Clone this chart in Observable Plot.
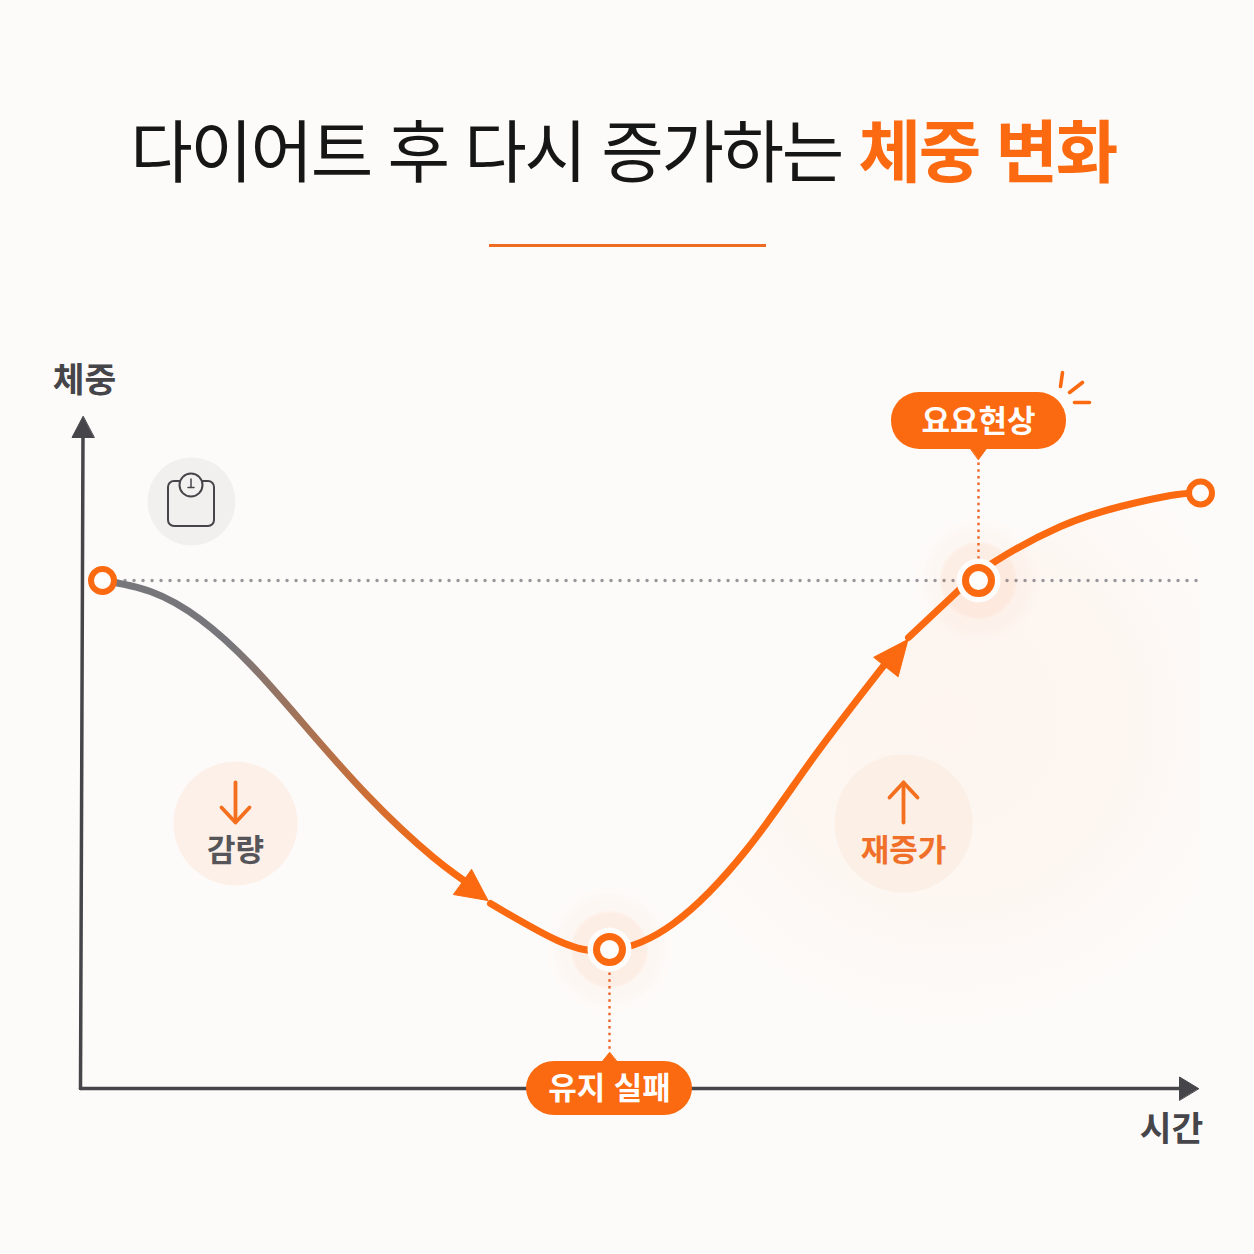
<!DOCTYPE html>
<html lang="ko">
<head>
<meta charset="utf-8">
<title>다이어트 후 다시 증가하는 체중 변화</title>
<script src="https://cdn.jsdelivr.net/npm/d3@7"></script>
<script src="https://cdn.jsdelivr.net/npm/@observablehq/plot@0.6"></script>
<style>
  html, body { margin: 0; padding: 0; background: #fdfbf9; width: 1254px; height: 1254px; overflow: hidden; }
  #head { position: relative; height: 270px; font-family: "Noto Sans CJK KR", sans-serif; }
  #head h1 { position: absolute; left: 0; width: 1246px; top: 100px; margin: 0; text-align: center; font-size: 68px; line-height: 96px; font-weight: 400; color: #161616; white-space: nowrap; letter-spacing: -2.4px; }
  #head h1 b { color: #fb6a10; font-weight: 700; }
  #head i { position: absolute; left: 489px; top: 244px; width: 277px; height: 3px; background: #ee6c22; }
  svg { display: block; }
</style>
</head>
<body>
<div id="head"><h1>다이어트 후 다시 증가하는 <b>체중 변화</b></h1><i></i></div>
<div id="chart"></div>
<script>
// Series: time (x) and weight (y), in the chart's own units
const descentTime   = [2.2, 7, 12, 17, 22, 28.7, 35.3, 39.8];
const descentWeight = [50.8, 49.7, 46.9, 42.4, 36.8, 29.3, 23.1, 19.8];
const plateauTime   = [41, 47.7, 52.9, 59.3, 66.7, 73.3, 80.8];
const plateauWeight = [18.5, 14.8, 13.8, 16.5, 24, 33.1, 42.9];
const reboundTime   = [82.8, 87.7, 91.3, 98, 104, 109, 112];
const reboundWeight = [45.1, 49.7, 52.6, 56.2, 58.2, 59.3, 59.6];

const startWeight = 50.8;
const keyTime   = [2.2, 52.9, 89.8, 112];
const keyWeight = [50.8, 13.9, 50.8, 59.55];
const keyHalo   = [false, true, true, false];

const titleLabels = ["체중", "시간"];
const pillLabels  = ["요요현상", "유지 실패"];
const phaseLabels = ["감량", "재증가"];

const orange = "#fb6a10", ink = "#46464a";
const font = "'Noto Sans CJK KR', sans-serif";

const tuple = (xs, ys, z) => xs.map((x, i) => ({x, y: ys[i], z}));
const curve = [
  ...tuple(descentTime, descentWeight, "descent"),
  ...tuple(plateauTime, plateauWeight, "plateau"),
  ...tuple(reboundTime, reboundWeight, "rebound")
];
const rising = [...tuple(plateauTime, plateauWeight), ...tuple(reboundTime, reboundWeight)].filter(d => d.x >= 59);
const keys = keyTime.map((x, i) => ({x, y: keyWeight[i], halo: keyHalo[i]}));
const halos = keys.filter(d => d.halo);
const ends = keys.filter(d => !d.halo);

// Arrowhead: tip at the anchor, base `length` behind it, half-width r
const head = {draw(c, l, r) { c.moveTo(0, 0); c.lineTo(-r, l); c.lineTo(r, l); c.closePath(); }};
const heads = (d, o) => Plot.vector([d], {x: "x", y: "y", anchor: "start", shape: head, rotate: d.rot, length: d.len, r: d.hw, fill: o, stroke: o, strokeWidth: 1});
const seg = (x1, y1, x2, y2, extra) => Plot.link([{x1, y1, x2, y2}], {x1: "x1", y1: "y1", x2: "x2", y2: "y2", strokeLinecap: "round", ...extra});
const pill = (x1, x2, y1, y2) => Plot.rect([{x1, x2, y1, y2}], {x1: "x1", x2: "x2", y1: "y1", y2: "y2", fill: orange, rx: 28});
const label = (t, x, y, size, weight, fill) => Plot.text([{t, x, y}], {x: "x", y: "y", text: "t", fontFamily: font, fontSize: size, fontWeight: weight, fill});

const defs = (index, {x, y}) => {
  const d = d3.create("svg:defs");
  const g = d.append("linearGradient").attr("id", "fade").attr("gradientUnits", "userSpaceOnUse")
    .attr("x1", x(15)).attr("x2", x(36)).attr("y1", 0).attr("y2", 0);
  g.append("stop").attr("offset", 0).attr("stop-color", "#77777b");
  g.append("stop").attr("offset", 1).attr("stop-color", orange);
  const r = d.append("radialGradient").attr("id", "glow").attr("gradientUnits", "userSpaceOnUse")
    .attr("cx", x(87)).attr("cy", y(36.8)).attr("r", 310);
  r.append("stop").attr("offset", 0).attr("stop-color", orange).attr("stop-opacity", 0.045);
  r.append("stop").attr("offset", 0.6).attr("stop-color", orange).attr("stop-opacity", 0.03);
  r.append("stop").attr("offset", 1).attr("stop-color", orange).attr("stop-opacity", 0);
  return d.node();
};

const plot = Plot.plot({
  width: 1254, height: 984,
  marginTop: 0, marginRight: 0, marginBottom: 0, marginLeft: 0,
  x: {axis: null, domain: [-8, 117.4], range: [0, 1254]},
  y: {axis: null, domain: [81.8, -16.6], range: [0, 984]},
  style: {background: "transparent"},
  marks: [
    defs,
    // soft glow beneath the rise
    Plot.areaY(rising, {x: "x", y1: d => d.y, y2: 0, curve: "natural", fill: "url(#glow)"}),

    // bubbles behind
    Plot.dot([{x: 11.1, y: 58.7}], {x: "x", y: "y", r: 44, fill: "#f2f0ee"}),
    Plot.dot([{x: 15.5, y: 26.5}], {x: "x", y: "y", r: 62, fill: "#fcf0e8"}),
    Plot.dot([{x: 82.3, y: 26.5}], {x: "x", y: "y", r: 69, fill: "#fbefe6"}),

    // bathroom scale icon
    Plot.rect([{x1: 8.8, x2: 13.4, y1: 60.7, y2: 56.2}], {x1: "x1", x2: "x2", y1: "y1", y2: "y2", fill: "none", stroke: ink, strokeWidth: 2, rx: 6}),
    Plot.dot([{x: 11.05, y: 60.35}], {x: "x", y: "y", r: 11.5, fill: "#f4f2f0", stroke: ink, strokeWidth: 2}),
    seg(11.05, 60.95, 11.05, 60.15, {stroke: ink, strokeWidth: 1.5}),
    seg(10.75, 60.1, 11.35, 60.1, {stroke: ink, strokeWidth: 1.5}),

    // axes
    seg(0, 0, 0.25, 65.5, {stroke: ink, strokeWidth: 3.5}),
    seg(0, 0, 110, 0, {stroke: ink, strokeWidth: 3.5}),
    heads({x: 0.25, y: 67.2, rot: 0, len: 21, hw: 11}, ink),
    heads({x: 111.8, y: 0, rot: 90, len: 19, hw: 11.5}, ink),
    label(titleLabels[0], 0.4, 70.8, 34.5, 700, ink),
    label(titleLabels[1], 109.1, -4.1, 34.5, 700, ink),

    // start-weight reference
    Plot.ruleY([startWeight], {x1: 3.6, x2: 112, stroke: "#97979c", strokeWidth: 3.4, strokeLinecap: "round", strokeDasharray: "0.1 8.9"}),

    // halos
    Plot.dot(halos, {x: "x", y: "y", r: 56, fill: orange, fillOpacity: 0.025, imageFilter: "blur(5px)"}),
    Plot.dot(halos, {x: "x", y: "y", r: 38, fill: orange, fillOpacity: 0.06, imageFilter: "blur(1px)"}),

    // leaders
    seg(89.8, 62.6, 89.8, 52.8, {stroke: "#ec6526", strokeWidth: 2.4, strokeDasharray: "2.5 4.2", strokeLinecap: "butt"}),
    seg(52.9, 11.6, 52.9, 3.8, {stroke: "#ec6526", strokeWidth: 2.4, strokeDasharray: "2.5 4.2", strokeLinecap: "butt"}),

    // curve
    Plot.line(curve, {x: "x", y: "y", z: "z", curve: "natural", stroke: "url(#fade)", strokeWidth: 7, strokeLinecap: "round"}),
    heads({x: 40.75, y: 18.8, rot: 126, len: 31.5, hw: 15.4}, orange),
    heads({x: 82.75, y: 44.9, rot: 38.7, len: 35.2, hw: 15.5}, orange),

    // key points
    Plot.dot(halos, {x: "x", y: "y", r: 22, fill: "#fffdfb"}),
    Plot.dot(halos, {x: "x", y: "y", r: 13, fill: "#fffdfb", stroke: orange, strokeWidth: 7}),
    Plot.dot(ends, {x: "x", y: "y", r: 11.5, fill: "#fffdfb", stroke: orange, strokeWidth: 6}),

    // phase bubbles: arrows + text
    seg(15.5, 30.6, 15.5, 26.8, {stroke: "#f4701f", strokeWidth: 3.8}),
    Plot.line([{x: 14.1, y: 28.1}, {x: 15.5, y: 26.6}, {x: 16.9, y: 28.1}], {x: "x", y: "y", stroke: "#f4701f", strokeWidth: 3.8, strokeLinecap: "round", strokeLinejoin: "round"}),
    label(phaseLabels[0], 15.5, 23.7, 31, 700, "#56565a"),
    seg(82.3, 26.6, 82.3, 30.6, {stroke: "#f4701f", strokeWidth: 3.8}),
    Plot.line([{x: 80.9, y: 29.1}, {x: 82.3, y: 30.6}, {x: 83.7, y: 29.1}], {x: "x", y: "y", stroke: "#f4701f", strokeWidth: 3.8, strokeLinecap: "round", strokeLinejoin: "round"}),
    label(phaseLabels[1], 82.3, 23.7, 31, 700, "#f0702a"),

    // pills
    pill(81.1, 98.6, 69.6, 63.9),
    heads({x: 89.8, y: 62.9, rot: 180, len: 11, hw: 8}, orange),
    label(pillLabels[0], 89.8, 66.6, 31, 600, "#fffdfb"),
    pill(44.6, 61.2, 2.7, -2.7),
    heads({x: 52.9, y: 3.6, rot: 0, len: 10, hw: 8}, orange),
    label(pillLabels[1], 52.9, -0.1, 31, 600, "#fffdfb"),

    // sparks
    seg(98.2, 71.6, 98.0, 70.2, {stroke: orange, strokeWidth: 3.6}),
    seg(100.2, 70.6, 98.9, 69.6, {stroke: orange, strokeWidth: 3.6}),
    seg(99.4, 68.6, 100.9, 68.6, {stroke: orange, strokeWidth: 3.6})
  ]
});
document.getElementById("chart").append(plot);
</script>
</body>
</html>
